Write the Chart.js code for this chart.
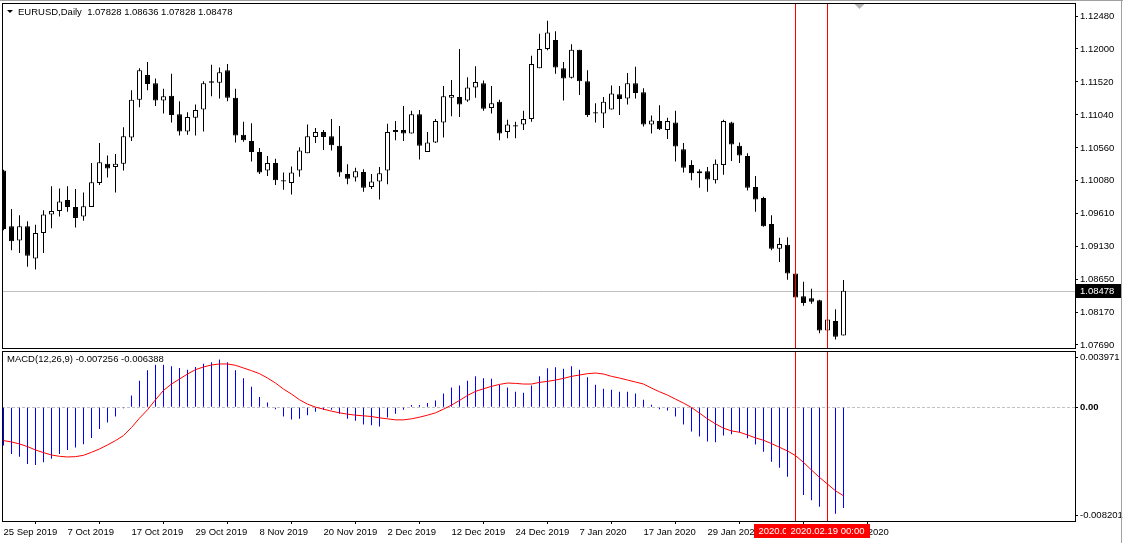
<!DOCTYPE html>
<html>
<head>
<meta charset="utf-8">
<title>EURUSD,Daily</title>
<script src="https://cdn.jsdelivr.net/npm/chart.js"></script>
<style>
  body { margin: 0; background: #fff; }
  #wrap { position: relative; width: 1123px; height: 543px; overflow: hidden; }
  canvas { position: absolute; left: 0; }
  #price { top: 0; }
  #macd { top: 350px; }
</style>
</head>
<body>
<div id="wrap">
  <canvas id="price" width="1123" height="350"></canvas>
  <canvas id="macd" width="1123" height="193"></canvas>
</div>
<script>
// daily bars, 25 Sep 2019 .. 21 Feb 2020
const opens = [
  1.1023, 1.0942, 1.0921, 1.0942, 1.0895, 1.0932, 1.0959, 1.0964, 1.0980, 1.0970,
  1.0956, 1.0970, 1.1005, 1.1033, 1.1028, 1.1033, 1.1071, 1.1126, 1.1162, 1.1150,
  1.1125, 1.1132, 1.1105, 1.1080, 1.1100, 1.1112, 1.1153, 1.1151, 1.1169, 1.1129,
  1.1075, 1.1066, 1.1050, 1.1023, 1.1034, 1.1009, 1.1005, 1.1023, 1.1048, 1.1072,
  1.1079, 1.1073, 1.1059, 1.1018, 1.1013, 1.1021, 1.0999, 1.1007, 1.1023, 1.1079,
  1.1082, 1.1077, 1.1105, 1.1050, 1.1064, 1.1093, 1.1129, 1.1130, 1.1125, 1.1144,
  1.1150, 1.1114, 1.1123, 1.1079, 1.1087, 1.1090, 1.1098, 1.1172, 1.1200, 1.1213,
  1.1172, 1.1158, 1.1199, 1.1153, 1.1108, 1.1106, 1.1112, 1.1134, 1.1128, 1.1150,
  1.1137, 1.1090, 1.1095, 1.1082, 1.1093, 1.1054, 1.1031, 1.1019, 1.1022, 1.1009,
  1.1031, 1.1093, 1.1059, 1.1044, 1.0999, 1.0983, 1.0945, 1.0909, 1.0915, 1.0873,
  1.0840, 1.0837, 1.0834, 1.0790, 1.0804, 1.07828
]
const highs = [
  1.1024, 1.0967, 1.0958, 1.0949, 1.0944, 1.0965, 1.1000, 1.0997, 1.1000, 1.0996,
  1.0991, 1.1034, 1.1063, 1.1045, 1.1047, 1.1086, 1.1140, 1.1172, 1.1181, 1.1157,
  1.1142, 1.1164, 1.1124, 1.1108, 1.1119, 1.1153, 1.1177, 1.1173, 1.1178, 1.1142,
  1.1094, 1.1092, 1.1056, 1.1044, 1.1040, 1.1020, 1.1029, 1.1057, 1.1090, 1.1085,
  1.1082, 1.1098, 1.1088, 1.1032, 1.1027, 1.1025, 1.1018, 1.1028, 1.1091, 1.1095,
  1.1117, 1.1110, 1.1111, 1.1079, 1.1098, 1.1146, 1.1155, 1.1200, 1.1159, 1.1175,
  1.1154, 1.1146, 1.1126, 1.1097, 1.1094, 1.1110, 1.1190, 1.1222, 1.1241, 1.1226,
  1.1181, 1.1207, 1.1199, 1.1169, 1.1121, 1.1130, 1.1147, 1.1146, 1.1165, 1.1174,
  1.1143, 1.1103, 1.1118, 1.1100, 1.1110, 1.1063, 1.1038, 1.1025, 1.1028, 1.1039,
  1.1097, 1.1094, 1.1064, 1.1048, 1.1015, 1.0985, 1.0958, 1.0925, 1.0926, 1.0874,
  1.0861, 1.0851, 1.0835, 1.0807, 1.0821, 1.08636
]
const lows = [
  1.0936, 1.0907, 1.0903, 1.0883, 1.0879, 1.0903, 1.0939, 1.0956, 1.0963, 1.0940,
  1.0950, 1.0970, 1.1002, 1.1013, 1.0991, 1.1023, 1.1066, 1.1115, 1.1140, 1.1117,
  1.1106, 1.1093, 1.1074, 1.1075, 1.1074, 1.1080, 1.1131, 1.1128, 1.1124, 1.1064,
  1.1065, 1.1036, 1.1018, 1.1015, 1.1002, 1.0995, 1.0988, 1.1014, 1.1048, 1.1063,
  1.1053, 1.1052, 1.1014, 1.1003, 1.1007, 1.0992, 1.0996, 1.0981, 1.1003, 1.1067,
  1.1066, 1.1077, 1.1039, 1.1050, 1.1063, 1.1071, 1.1102, 1.1101, 1.1123, 1.1129,
  1.1110, 1.1106, 1.1067, 1.1070, 1.1070, 1.1082, 1.1094, 1.1172, 1.1198, 1.1164,
  1.1125, 1.1157, 1.1133, 1.1101, 1.1093, 1.1085, 1.1112, 1.1104, 1.1119, 1.1128,
  1.1087, 1.1077, 1.1082, 1.1069, 1.1036, 1.1020, 1.1009, 1.0998, 1.0992, 1.1004,
  1.1017, 1.1037, 1.1034, 1.0994, 1.0963, 1.0941, 1.0907, 1.0890, 1.0864, 1.0837,
  1.0826, 1.0829, 1.0786, 1.0789, 1.0777, 1.07828
]
const closes = [
  1.0938, 1.0920, 1.0942, 1.0899, 1.0932, 1.0959, 1.0964, 1.0978, 1.0970, 1.0954,
  1.0971, 1.1006, 1.1035, 1.1026, 1.1033, 1.1073, 1.1126, 1.1169, 1.1149, 1.1125,
  1.1131, 1.1104, 1.1080, 1.1101, 1.1111, 1.1150, 1.1151, 1.1166, 1.1129, 1.1074,
  1.1067, 1.1050, 1.1020, 1.1034, 1.1009, 1.1007, 1.1020, 1.1052, 1.1073, 1.1079,
  1.1072, 1.1060, 1.1020, 1.1011, 1.1022, 1.0998, 1.1007, 1.1019, 1.1079, 1.1082,
  1.1077, 1.1105, 1.1059, 1.1064, 1.1095, 1.1131, 1.1133, 1.1119, 1.1144, 1.1152,
  1.1113, 1.1121, 1.1077, 1.1090, 1.1089, 1.1098, 1.1178, 1.1200, 1.1224, 1.1173,
  1.1157, 1.1199, 1.1153, 1.1104, 1.1106, 1.1123, 1.1135, 1.1127, 1.1150, 1.1136,
  1.1090, 1.1096, 1.1083, 1.1095, 1.1058, 1.1027, 1.1019, 1.1022, 1.1010, 1.1033,
  1.1095, 1.1061, 1.1045, 1.0998, 1.0981, 1.0942, 1.0909, 1.0916, 1.0873, 1.0838,
  1.0830, 1.0832, 1.0790, 1.0806, 1.0781, 1.08478
]
const macdMain = [
  -0.002771, -0.003373, -0.003566, -0.004096, -0.004169, -0.003976, -0.003711, -0.003373, -0.003084, -0.002916,
  -0.002675, -0.002217, -0.001566, -0.001108, -0.000675, -0.000072, 0.000843, 0.001904, 0.002651, 0.003060,
  0.003060, 0.002940, 0.002819, 0.002699, 0.002892, 0.003133, 0.003229, 0.003422, 0.003229, 0.002651,
  0.002072, 0.001470, 0.000723, 0.000337, -0.000145, -0.000675, -0.000892, -0.000843, -0.000578, -0.000337,
  -0.000193, -0.000193, -0.000482, -0.000843, -0.000988, -0.001253, -0.001301, -0.001398, -0.000747, -0.000482,
  -0.000193, 0.000145, 0.000145, 0.000289, 0.000482, 0.000988, 0.001422, 0.001566, 0.001904, 0.002217,
  0.002072, 0.002048, 0.001614, 0.001422, 0.001108, 0.001036, 0.001566, 0.002217, 0.002795, 0.002867,
  0.002771, 0.002940, 0.002699, 0.002145, 0.001614, 0.001325, 0.001253, 0.001108, 0.001108, 0.000988,
  0.000530, 0.000169, -0.000145, -0.000241, -0.000675, -0.001253, -0.001759, -0.002120, -0.002482, -0.002530,
  -0.002048, -0.001952, -0.001831, -0.002241, -0.002699, -0.003205, -0.003928, -0.004361, -0.005012, -0.005700,
  -0.006337, -0.006699, -0.007181, -0.007400, -0.007687, -0.007256
]
const macdSignal = [
  -0.002410, -0.002506, -0.002651, -0.002843, -0.003084, -0.003277, -0.003446, -0.003542, -0.003590, -0.003566,
  -0.003470, -0.003253, -0.003012, -0.002723, -0.002410, -0.002048, -0.001470, -0.000795, -0.000193, 0.000530,
  0.001205, 0.001663, 0.002024, 0.002386, 0.002699, 0.002892, 0.003036, 0.003108, 0.003108, 0.003012,
  0.002819, 0.002627, 0.002410, 0.002096, 0.001735, 0.001301, 0.000940, 0.000530, 0.000217, 0.000000,
  -0.000145, -0.000289, -0.000410, -0.000506, -0.000578, -0.000627, -0.000675, -0.000771, -0.000843, -0.000916,
  -0.000916, -0.000843, -0.000723, -0.000578, -0.000410, -0.000145, 0.000145, 0.000482, 0.000843, 0.001133,
  0.001325, 0.001494, 0.001639, 0.001735, 0.001711, 0.001663, 0.001663, 0.001783, 0.001855, 0.001952,
  0.002072, 0.002217, 0.002313, 0.002410, 0.002458, 0.002386, 0.002217, 0.002096, 0.001952, 0.001807,
  0.001663, 0.001373, 0.001108, 0.000867, 0.000578, 0.000289, -0.000024, -0.000434, -0.000843, -0.001205,
  -0.001518, -0.001711, -0.001807, -0.002000, -0.002217, -0.002386, -0.002627, -0.002892, -0.003157, -0.003494,
  -0.003976, -0.004530, -0.005060, -0.005542, -0.006024, -0.006388
]
const dateTicks = ['25 Sep 2019', '7 Oct 2019', '17 Oct 2019', '29 Oct 2019', '8 Nov 2019', '20 Nov 2019',
  '2 Dec 2019', '12 Dec 2019', '24 Dec 2019', '7 Jan 2020', '17 Jan 2020', '29 Jan 2020', '10 Feb 2020', '20 Feb 2020']
const tickEvery = 8
const priceTicks = [1.0769, 1.0817, 1.0865, 1.0913, 1.0961, 1.1008, 1.1056, 1.1104, 1.1152, 1.1200, 1.1248]
const macdMax = 0.003971
const macdMin = -0.008201
const vlineBars = [99, 103]
const vlineLabels = ['2020.02.13 00:00', '2020.02.19 00:00']
const shiftBar = 107

const FONT = '9.5px "Liberation Sans", Arial, sans-serif'
Chart.defaults.font.family = '"Liberation Sans", Arial, sans-serif'
Chart.defaults.font.size = 9.5
Chart.defaults.color = '#000'

const last = closes.length - 1

function noPad (s) {
  s.paddingTop = 0
  s.paddingBottom = 0
  s.paddingLeft = 0
  s.paddingRight = 0
}

function xAxis (show) {
  return {
    type: 'linear',
    display: show,
    offset: false,
    min: -0.1875,
    max: 133.9375,
    afterBuildTicks: s => { s.ticks = dateTicks.map((_, j) => ({ value: j * tickEvery })) },
    afterFit: s => {
      if (show) s.height = 22
      noPad(s)
    },
    grid: { drawOnChartArea: false, drawTicks: true, tickLength: 3, color: '#000' },
    border: { display: false },
    ticks: { autoSkip: false, maxRotation: 0, align: 'start', padding: 3, callback: (v, i) => dateTicks[i] }
  }
}

function drawVLines (chart) {
  const { ctx, chartArea: a, scales: { x } } = chart
  ctx.save()
  ctx.strokeStyle = '#ff0000'
  ctx.lineWidth = 1
  vlineBars.forEach(b => {
    const px = Math.floor(x.getPixelForValue(b)) + 0.5
    ctx.beginPath()
    ctx.moveTo(px, a.top - 0.5)
    ctx.lineTo(px, a.bottom + 0.5)
    ctx.stroke()
  })
  ctx.restore()
}

function drawBox (chart) {
  const { ctx, chartArea: a } = chart
  ctx.save()
  ctx.strokeStyle = '#000'
  ctx.lineWidth = 1
  ctx.strokeRect(a.left + 0.5, a.top - 0.5, a.right - a.left, a.bottom - a.top + 1)
  ctx.fillStyle = '#a0a0a0'
  ctx.fillRect(1121, 0, 1, chart.height)
  ctx.restore()
}

const priceDecor = {
  id: 'priceDecor',
  beforeDatasetsDraw (chart) {
    const { ctx, chartArea: a, scales: { y } } = chart
    const py = Math.round(y.getPixelForValue(closes[last])) + 0.5
    ctx.save()
    ctx.strokeStyle = '#c0c0c0'
    ctx.beginPath()
    ctx.moveTo(a.left, py)
    ctx.lineTo(a.right, py)
    ctx.stroke()
    ctx.restore()
  },
  afterDatasetsDraw (chart) { drawVLines(chart) },
  afterDraw (chart) {
    const { ctx, chartArea: a, scales: { x, y } } = chart
    drawBox(chart)
    ctx.save()
    ctx.fillStyle = '#a0a0a0'
    ctx.fillRect(0, 0, chart.width, 1)

    // chart shift marker
    const sx = x.getPixelForValue(shiftBar)
    ctx.fillStyle = '#b4b4b4'
    ctx.beginPath()
    ctx.moveTo(sx - 5, a.top)
    ctx.lineTo(sx + 5, a.top)
    ctx.lineTo(sx, a.top + 5)
    ctx.fill()

    // title
    ctx.fillStyle = '#000'
    ctx.beginPath()
    ctx.moveTo(7, 10)
    ctx.lineTo(13, 10)
    ctx.lineTo(10, 13)
    ctx.fill()
    ctx.font = FONT
    ctx.textBaseline = 'middle'
    const ohlc = [opens[last], highs[last], lows[last], closes[last]].map(v => v.toFixed(5)).join(' ')
    ctx.fillText('EURUSD,Daily  ' + ohlc, 18, 12)

    // last price tag
    const py = Math.round(y.getPixelForValue(closes[last]))
    ctx.fillRect(a.right + 1, py - 7, 45, 14)
    ctx.fillStyle = '#fff'
    ctx.fillText(closes[last].toFixed(5), a.right + 5, py + 0.5)
    ctx.restore()
  }
}

const macdDecor = {
  id: 'macdDecor',
  beforeDatasetsDraw (chart) {
    const { ctx, chartArea: a, scales: { y } } = chart
    const py = Math.round(y.getPixelForValue(0)) + 0.5
    ctx.save()
    ctx.strokeStyle = '#c0c0c0'
    ctx.setLineDash([3, 2])
    ctx.beginPath()
    ctx.moveTo(a.left, py)
    ctx.lineTo(a.right, py)
    ctx.stroke()
    ctx.restore()
  },
  afterDatasetsDraw (chart) { drawVLines(chart) },
  afterDraw (chart) {
    const { ctx, chartArea: a, scales: { x } } = chart
    drawBox(chart)
    ctx.save()
    ctx.font = FONT
    ctx.textBaseline = 'middle'
    ctx.fillStyle = '#000'
    ctx.fillText('MACD(12,26,9) ' + macdMain[last].toFixed(6) + ' ' + macdSignal[last].toFixed(6), 7, 9)

    // vertical line time tags on the time axis
    ctx.textAlign = 'center'
    vlineBars.forEach((b, i) => {
      const px = Math.floor(x.getPixelForValue(b)) + 0.5
      const w = Math.round(ctx.measureText(vlineLabels[i]).width) + 10
      ctx.fillStyle = '#ff0000'
      ctx.fillRect(Math.round(px - w / 2), a.bottom + 3, w, 14)
      ctx.fillStyle = '#fff'
      ctx.fillText(vlineLabels[i], px, a.bottom + 10.5)
    })
    ctx.restore()
  }
}

new Chart(document.getElementById('price'), {
  type: 'bar',
  data: {
    datasets: [
      {
        label: 'wicks',
        data: lows.map((l, i) => ({ x: i, y: [l, highs[i]] })),
        backgroundColor: '#000',
        borderWidth: 0,
        barThickness: 1,
        inflateAmount: 0,
        grouped: false,
        clip: 0,
        order: 1
      },
      {
        label: 'bodies',
        data: opens.map((o, i) => ({ x: i, y: [o, closes[i]] })),
        backgroundColor: opens.map((o, i) => closes[i] >= o ? '#fff' : '#000'),
        borderColor: '#000',
        borderWidth: 1,
        borderSkipped: false,
        barThickness: 5,
        minBarLength: 1,
        inflateAmount: 0,
        grouped: false,
        clip: 0,
        order: 0
      }
    ]
  },
  options: {
    responsive: false,
    animation: false,
    events: [],
    layout: { padding: { left: 2, top: 4, bottom: 2, right: 0 } },
    plugins: { legend: { display: false }, tooltip: { enabled: false } },
    scales: {
      x: xAxis(false),
      y: {
        position: 'right',
        min: 1.07646,
        max: 1.12655,
        afterBuildTicks: s => { s.ticks = priceTicks.map(v => ({ value: v })) },
        afterFit: s => {
          s.width = 48
          noPad(s)
        },
        grid: { drawOnChartArea: false, tickLength: 3, color: '#000' },
        border: { display: false },
        ticks: { padding: 2, callback: v => v.toFixed(5) }
      }
    }
  },
  plugins: [priceDecor]
})

new Chart(document.getElementById('macd'), {
  type: 'bar',
  data: {
    datasets: [
      {
        type: 'bar',
        label: 'MACD',
        data: macdMain.map((v, i) => ({ x: i, y: v })),
        backgroundColor: '#0000ff',
        borderWidth: 0,
        barThickness: 1,
        inflateAmount: 0,
        grouped: false,
        clip: 0,
        order: 1
      },
      {
        type: 'line',
        label: 'Signal',
        data: macdSignal.map((v, i) => ({ x: i, y: v })),
        borderColor: '#ff0000',
        borderWidth: 1,
        pointRadius: 0,
        tension: 0,
        clip: 0,
        order: 0
      }
    ]
  },
  options: {
    responsive: false,
    animation: false,
    events: [],
    layout: { padding: { left: 2, top: 2, bottom: 0, right: 0 } },
    plugins: { legend: { display: false }, tooltip: { enabled: false } },
    scales: {
      x: xAxis(true),
      y: {
        position: 'right',
        min: macdMin,
        max: macdMax,
        afterBuildTicks: s => {
          // extreme labels sit a few pixels inside the window, as in the terminal
          const inset = (macdMax - macdMin) * 0.032
          s.ticks = [{ value: macdMax - inset }, { value: 0 }, { value: macdMin + inset }]
        },
        afterFit: s => {
          s.width = 48
          noPad(s)
        },
        grid: { drawOnChartArea: false, tickLength: 3, color: '#000' },
        border: { display: false },
        ticks: {
          padding: 2,
          font: ctx => ({ weight: ctx.tick && ctx.tick.value === 0 ? 'bold' : 'normal' }),
          callback: (v, i) => [macdMax.toFixed(6), '0.00', macdMin.toFixed(6)][i]
        }
      }
    }
  },
  plugins: [macdDecor]
})
</script>
</body>
</html>
